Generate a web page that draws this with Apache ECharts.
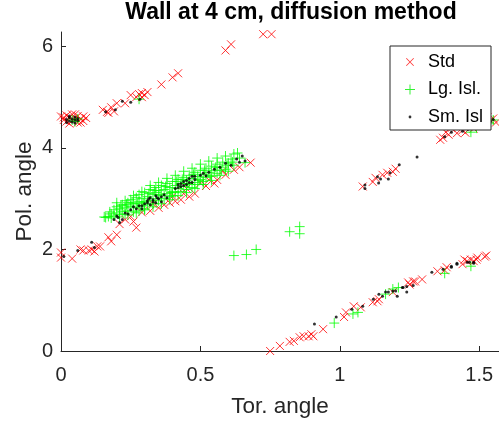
<!DOCTYPE html>
<html>
<head>
<meta charset="utf-8">
<script src="https://cdn.jsdelivr.net/npm/echarts@6/dist/echarts.min.js"></script>
<style>
html,body{margin:0;padding:0;background:#fff;}
#chart{width:499px;height:423px;}
</style>
</head>
<body>
<div id="chart"></div>
<script>
// ---------- data (Tor. angle, Pol. angle) ----------
const titleText = 'Wall at 4 cm, diffusion method';
const xName = 'Tor. angle';
const yName = 'Pol. angle';
const seriesNames = ['Std', 'Lg. Isl.', 'Sm. Isl'];
const xTicks = [0, 0.5, 1, 1.5];
const yTicks = [0, 2, 4, 6];
const xMax = 1.5708;
const yMax = 6.2832;

// Std (red x)
const stdLeftCluster = [[0.00,4.62],[0.01,4.55],[0.02,4.64],[0.02,4.52],[0.03,4.60],[0.04,4.66],[0.04,4.54],[0.05,4.58],[0.06,4.63],[0.06,4.50],[0.07,4.57],[0.08,4.62],[0.08,4.53],[0.09,4.59],[0.01,4.60],[0.03,4.48],[0.05,4.66],[0.07,4.50]];
const stdUpperLine = [[0.15,4.75],[0.17,4.69],[0.165,4.71],[0.18,4.80],[0.20,4.88],[0.19,4.72],[0.23,4.88],[0.25,5.04],[0.27,5.00],[0.29,5.08],[0.30,5.04],[0.31,5.10],[0.29,5.00],[0.28,5.06],[0.36,5.25],[0.40,5.39],[0.42,5.47],[0.59,5.92],[0.61,6.04],[0.725,6.24],[0.755,6.24]];
const stdLowerLeft = [[0.00,1.94],[0.00,1.84],[0.04,1.82],[0.07,2.00],[0.08,1.98],[0.11,2.00],[0.12,1.96],[0.13,2.06],[0.14,2.06],[0.10,1.98],[0.17,2.24],[0.18,2.16],[0.20,2.29],[0.23,2.59],[0.26,2.55],[0.27,2.43],[0.25,2.65],[0.21,2.50]];
const stdBand = [[0.29,2.73],[0.32,2.76],[0.35,2.82],[0.37,2.88],[0.39,2.92],[0.41,2.95],[0.43,2.98],[0.46,3.04],[0.48,3.10],[0.50,3.31],[0.53,3.37],[0.56,3.37],[0.59,3.47],[0.62,3.57],[0.68,3.71],[0.45,3.20],[0.40,3.05],[0.33,2.90],[0.52,3.25],[0.58,3.55],[0.44,3.10],[0.55,3.30],[0.64,3.62]];
const stdLowerRight = [[0.75,0.00],[0.785,0.10],[0.82,0.18],[0.835,0.20],[0.856,0.27],[0.87,0.29],[0.888,0.29],[0.898,0.33],[0.905,0.29],[0.94,0.43],[1.015,0.67],[1.022,0.76],[1.05,0.88],[1.075,0.86],[1.118,0.96],[1.135,0.98],[1.14,1.02],[1.19,1.16],[1.245,1.35],[1.25,1.31],[1.263,1.37],[1.27,1.37],[1.295,1.41],[1.35,1.57],[1.376,1.59],[1.383,1.65],[1.44,1.71],[1.447,1.80],[1.457,1.77],[1.47,1.80],[1.48,1.77],[1.49,1.80],[1.493,1.84],[1.52,1.86],[1.525,1.88]];
const stdMidRight = [[1.082,3.24],[1.118,3.33],[1.128,3.41],[1.153,3.47],[1.17,3.51],[1.19,3.53],[1.20,3.59]];
const stdUpperRight = [[1.36,4.16],[1.37,4.20],[1.38,4.31],[1.40,4.39],[1.42,4.29],[1.44,4.35],[1.46,4.42],[1.48,4.38],[1.50,4.47],[1.52,4.52],[1.53,4.61],[1.54,4.55],[1.55,4.58],[1.56,4.50],[1.39,4.26],[1.45,4.30]];

// Lg. Isl. (green +)
const lgLeftCluster = [[0.04,4.55],[0.05,4.52],[0.06,4.57]];
const lgUpperLine = [[0.28,4.96]];
const lgBand = [[0.16,2.63],[0.17,2.65],[0.18,2.70],[0.19,2.66],[0.19,2.78],[0.20,2.72],[0.20,2.84],[0.21,2.69],[0.21,2.80],[0.22,2.75],[0.22,2.88],
  [0.23,2.70],[0.23,2.82],[0.24,2.92],[0.24,2.76],[0.25,2.85],[0.25,2.98],[0.26,2.74],[0.26,2.90],[0.27,2.82],[0.27,3.02],[0.28,2.76],[0.28,2.94],[0.28,3.08],
  [0.29,2.86],[0.29,3.00],[0.30,2.80],[0.30,2.94],[0.30,3.12],[0.31,3.04],[0.31,2.88],[0.32,3.18],[0.32,2.96],[0.33,3.08],[0.33,2.90],[0.34,3.22],[0.34,3.00],[0.34,3.12],
  [0.35,2.96],[0.35,3.16],[0.36,3.06],[0.36,3.26],[0.37,3.00],[0.37,3.18],[0.38,3.10],[0.38,3.30],[0.39,3.04],[0.39,3.22],[0.40,3.14],[0.40,3.34],[0.40,3.06],
  [0.41,3.26],[0.41,3.12],[0.42,3.38],[0.42,3.20],[0.43,3.14],[0.43,3.30],[0.44,3.42],[0.44,3.24],[0.45,3.18],[0.45,3.36],[0.46,3.46],[0.46,3.28],
  [0.47,3.22],[0.47,3.40],[0.48,3.52],[0.48,3.32],[0.49,3.44],[0.49,3.28],[0.50,3.56],[0.50,3.38],[0.51,3.48],[0.51,3.34],[0.52,3.60],[0.52,3.42],
  [0.53,3.52],[0.54,3.64],[0.54,3.44],[0.55,3.56],[0.56,3.68],[0.56,3.50],[0.57,3.62],[0.58,3.72],[0.59,3.58],[0.60,3.70],[0.61,3.78],[0.62,3.66],[0.633,3.90],[0.64,3.80],[0.66,3.71],
  [0.20,2.92],[0.23,2.96],[0.26,3.06],[0.29,3.14],[0.32,3.26],[0.35,3.32],[0.38,3.40],[0.41,3.46],[0.44,3.54],[0.47,3.60],[0.50,3.68],[0.53,3.74],[0.56,3.80],[0.59,3.84],[0.62,3.88],
  [0.18,2.62],[0.21,2.64],[0.24,2.68],[0.27,2.72],[0.30,2.78],[0.33,2.84],[0.36,2.90],[0.39,2.98],[0.42,3.06],[0.45,3.12],[0.48,3.20],[0.51,3.28],[0.54,3.36],[0.57,3.46],[0.60,3.54],
  [0.155,2.64],[0.175,2.74],[0.215,2.86],[0.235,2.88],[0.255,2.92],[0.275,2.90],[0.295,2.92],[0.315,3.10],[0.335,3.16],[0.355,3.08],[0.375,3.24],[0.395,3.12],[0.415,3.34],[0.435,3.38],[0.455,3.30],[0.475,3.48],[0.495,3.36],[0.515,3.56],[0.535,3.46],[0.555,3.62],[0.575,3.56],[0.595,3.66],[0.615,3.72]];
const lgOutliers = [[0.62,1.88],[0.665,1.90],[0.70,2.00],[0.82,2.35],[0.856,2.45],[0.856,2.31]];
const lgLowerRight = [[0.98,0.55],[1.047,0.73],[1.065,0.76],[1.164,1.12],[1.19,1.22],[1.21,1.25],[1.376,1.53],[1.47,1.67]];
const lgUpperRight = [[1.47,4.31],[1.49,4.39],[1.535,4.49],[1.55,4.55]];

// Sm. Isl (black dots)
const smLeftCluster = [[0.02,4.56],[0.03,4.53],[0.03,4.60],[0.04,4.57],[0.04,4.51],[0.05,4.55],[0.05,4.61],[0.06,4.54],[0.02,4.50],[0.06,4.58],[0.03,4.63],[0.05,4.49]];
const smUpperLine = [[0.16,4.71],[0.195,4.75],[0.22,4.92],[0.25,4.90],[0.283,4.96]];
const smLowerLeft = [[0.01,1.86],[0.06,1.98],[0.11,2.14],[0.12,2.04],[0.19,2.59],[0.205,2.63],[0.21,2.53],[0.22,2.59]];
const smBand = [[0.20,2.66],[0.23,2.72],[0.25,2.78],[0.26,2.84],[0.28,2.86],[0.29,2.80],[0.30,2.90],[0.31,2.96],[0.32,2.88],[0.32,3.02],[0.33,2.94],[0.34,3.06],[0.35,3.00],[0.36,2.94],[0.37,3.08],[0.38,3.02],
  [0.41,3.20],[0.42,3.28],[0.43,3.24],[0.44,3.34],[0.45,3.28],[0.46,3.40],[0.47,3.32],[0.47,3.44],[0.48,3.38],[0.51,3.50],[0.52,3.45],[0.57,3.62],[0.59,3.70],[0.61,3.66],[0.63,3.78],[0.65,3.84],[0.66,3.74],[0.64,3.72],
  [0.31,2.92],[0.315,3.00],[0.33,2.98],[0.34,2.92],[0.345,3.02],[0.36,3.04],[0.42,3.22],[0.43,3.30],[0.44,3.26],[0.45,3.36],[0.46,3.32],[0.48,3.44],[0.24,2.70],[0.27,2.80],[0.29,2.86],[0.50,3.46],[0.53,3.52],[0.55,3.58]];
const smLowerRight = [[0.909,0.53],[0.987,0.67],[1.043,0.82],[1.082,0.88],[1.12,1.02],[1.14,1.12],[1.153,1.08],[1.164,1.16],[1.174,1.16],[1.19,1.18],[1.20,1.18],[1.206,1.08],[1.224,1.25],[1.227,1.25],[1.24,1.27],[1.24,1.16],[1.263,1.29],[1.33,1.55],[1.37,1.61],[1.40,1.65],[1.40,1.67],[1.42,1.71],[1.42,1.73],[1.457,1.75],[1.465,1.75],[1.48,1.75],[1.48,1.73]];
const smMidRight = [[1.09,3.27],[1.09,3.20],[1.135,3.43],[1.139,3.31],[1.146,3.39],[1.174,3.39],[1.18,3.51],[1.213,3.67],[1.277,3.82]];
const smUpperRight = [[1.376,4.22],[1.40,4.31],[1.42,4.39],[1.44,4.33],[1.46,4.37],[1.54,4.52],[1.55,4.56]];

const stdData = [].concat(stdLeftCluster, stdUpperLine, stdLowerLeft, stdBand, stdLowerRight, stdMidRight, stdUpperRight);
const lgData = [].concat(lgLeftCluster, lgUpperLine, lgBand, lgOutliers, lgLowerRight, lgUpperRight);
const smData = [].concat(smLeftCluster, smUpperLine, smLowerLeft, smBand, smLowerRight, smMidRight, smUpperRight);

// ---------- chart ----------
const xPath = 'path://M0,0L10,10M10,0L0,10';
const plusPath = 'path://M5,0L5,10M0,5L10,5';
// filled legend icons in a 20x12 box (tiny corner marks fix the bounding box), shape centred at x=7
const corners = 'M0,0L0.02,0L0,0.02ZM20,12L19.98,12L20,11.98Z';
const xIcon = 'path://' + corners + 'M3,2.6L3.6,2L11,9.4L10.4,10ZM10.4,2L11,2.6L3.6,10L3,9.4Z';
const plusIcon = 'path://' + corners + 'M6.5,1L7.5,1L7.5,11L6.5,11ZM2,5.5L12,5.5L12,6.5L2,6.5Z';
const dotIcon = 'path://' + corners + 'M5.6,6A1.4,1.4 0 1,1 8.4,6A1.4,1.4 0 1,1 5.6,6Z';
const axisColor = '#262626';
const font = 'Liberation Sans, Arial, Helvetica, sans-serif';

const chart = echarts.init(document.getElementById('chart'), null, {renderer: 'canvas'});
chart.setOption({
  animation: false,
  backgroundColor: '#fff',
  title: {
    text: titleText,
    left: 291, top: 1, padding: 0, textAlign: 'center',
    textStyle: {fontFamily: font, fontSize: 23, fontWeight: 'bold', color: '#000'}
  },
  grid: {left: 61, right: -6, top: 32, bottom: 71, containLabel: false},
  legend: {
    orient: 'vertical',
    left: 390, top: 46,
    padding: [7, 8, 4, 13],
    itemWidth: 20, itemHeight: 12, itemGap: 9.5,
    backgroundColor: '#fff',
    borderColor: axisColor, borderWidth: 1,
    textStyle: {fontFamily: font, fontSize: 18, color: '#000'},
    data: [
      {name: seriesNames[0], icon: xIcon, itemStyle: {color: '#ff0000', borderWidth: 0}},
      {name: seriesNames[1], icon: plusIcon, itemStyle: {color: '#00ee00', borderWidth: 0}},
      {name: seriesNames[2], icon: dotIcon, itemStyle: {color: '#000000', borderWidth: 0}}
    ]
  },
  xAxis: {
    type: 'value', min: 0, max: xMax, interval: 0.5,
    name: xName, nameLocation: 'middle', nameGap: 44, nameMoveOverlap: false,
    nameTextStyle: {fontFamily: font, fontSize: 22.5, color: axisColor},
    axisLine: {show: true, lineStyle: {color: axisColor, width: 1}},
    axisTick: {show: true, inside: true, length: 5, lineStyle: {color: axisColor}, customValues: xTicks},
    axisLabel: {fontFamily: font, fontSize: 20, color: axisColor, margin: 14, customValues: xTicks, formatter: v => String(v)},
    splitLine: {show: false}
  },
  yAxis: {
    type: 'value', min: 0, max: yMax, interval: 2,
    name: yName, nameLocation: 'middle', nameGap: 25, nameMoveOverlap: false,
    nameTextStyle: {fontFamily: font, fontSize: 22.5, color: axisColor},
    axisLine: {show: true, lineStyle: {color: axisColor, width: 1}},
    axisTick: {show: true, inside: true, length: 5, lineStyle: {color: axisColor}, customValues: yTicks},
    axisLabel: {fontFamily: font, fontSize: 20, color: axisColor, margin: 8, customValues: yTicks, formatter: v => String(v)},
    splitLine: {show: false}
  },
  series: [
    {name: seriesNames[0], type: 'scatter', data: stdData, symbol: xPath, symbolSize: 8, clip: false,
     itemStyle: {color: 'none', borderColor: '#ff0000', borderWidth: 1}, emphasis: {disabled: true}},
    {name: seriesNames[1], type: 'scatter', data: lgData, symbol: plusPath, symbolSize: 10, clip: false,
     itemStyle: {color: 'none', borderColor: '#00ff00', borderWidth: 1}, emphasis: {disabled: true}},
    {name: seriesNames[2], type: 'scatter', data: smData, symbol: 'circle', symbolSize: 3, clip: false,
     itemStyle: {color: '#000', borderWidth: 0}, emphasis: {disabled: true}}
  ]
});
</script>
</body>
</html>
